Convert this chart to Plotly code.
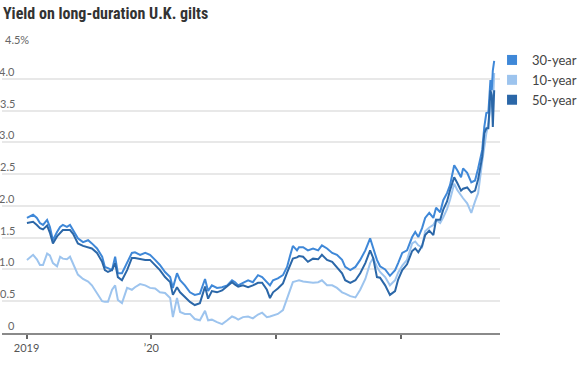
import plotly.graph_objects as go

# ---- data ----
dates = [
    "2019-01-02", "2019-01-20", "2019-01-31", "2019-02-09", "2019-02-18", "2019-03-02", "2019-03-10",
    "2019-03-19", "2019-03-31", "2019-04-09", "2019-04-17", "2019-04-29", "2019-05-08", "2019-05-17",
    "2019-05-31", "2019-06-15", "2019-06-30", "2019-07-11", "2019-07-26", "2019-08-10", "2019-08-18",
    "2019-08-27", "2019-09-08", "2019-09-17", "2019-09-25", "2019-10-07", "2019-10-22", "2019-11-05",
    "2019-11-14", "2019-11-29", "2019-12-14", "2019-12-28", "2020-01-12", "2020-01-26", "2020-02-10",
    "2020-02-25", "2020-03-04", "2020-03-16", "2020-03-25", "2020-04-08", "2020-04-23", "2020-05-07",
    "2020-05-22", "2020-06-06", "2020-06-15", "2020-06-26", "2020-07-11", "2020-07-26", "2020-08-10",
    "2020-08-24", "2020-09-02", "2020-09-11", "2020-09-25", "2020-10-10", "2020-10-24", "2020-11-08",
    "2020-11-20", "2020-12-04", "2020-12-13", "2020-12-22", "2021-01-05", "2021-01-20", "2021-02-01",
    "2021-02-10", "2021-02-18", "2021-03-02", "2021-03-08", "2021-03-20", "2021-04-03", "2021-04-18",
    "2021-05-03", "2021-05-14", "2021-05-29", "2021-06-13", "2021-06-27", "2021-07-12", "2021-07-21",
    "2021-08-05", "2021-08-20", "2021-09-03", "2021-09-18", "2021-10-02", "2021-10-11", "2021-10-22",
    "2021-10-31", "2021-11-15", "2021-11-29", "2021-12-14", "2021-12-23", "2022-01-04", "2022-01-18",
    "2022-02-02", "2022-02-11", "2022-02-20", "2022-03-03", "2022-03-12", "2022-03-24", "2022-04-05",
    "2022-04-13", "2022-04-25", "2022-05-04", "2022-05-15", "2022-05-24", "2022-06-05", "2022-06-14",
    "2022-06-25", "2022-07-01", "2022-07-13", "2022-07-25", "2022-08-05", "2022-08-14", "2022-08-26",
    "2022-09-01", "2022-09-07", "2022-09-13", "2022-09-19", "2022-09-23", "2022-09-26", "2022-09-30",
]

yield_30 = [
    1.81, 1.86, 1.81, 1.73, 1.70, 1.78, 1.67,
    1.46, 1.59, 1.67, 1.70, 1.67, 1.70, 1.62,
    1.49, 1.43, 1.46, 1.41, 1.33, 1.20, 1.04,
    1.02, 0.99, 1.20, 0.94, 0.94, 1.10, 1.26,
    1.27, 1.23, 1.26, 1.23, 1.15, 1.07, 0.96,
    0.88, 0.71, 0.94, 0.83, 0.75, 0.64, 0.60,
    0.62, 0.85, 0.66, 0.75, 0.71, 0.72, 0.75,
    0.83, 0.80, 0.75, 0.79, 0.83, 0.80, 0.91,
    0.88, 0.80, 0.75, 0.83, 0.86, 0.91, 1.04,
    1.22, 1.37, 1.30, 1.35, 1.35, 1.30, 1.33,
    1.30, 1.38, 1.33, 1.26, 1.23, 1.15, 1.04,
    0.99, 1.04, 1.15, 1.30, 1.49, 1.35, 1.15,
    1.05, 1.00, 0.90, 0.99, 1.10, 1.26, 1.30,
    1.51, 1.59, 1.51, 1.65, 1.81, 1.89, 1.81,
    1.97, 1.90, 2.09, 2.20, 2.33, 2.64, 2.56,
    2.45, 2.59, 2.52, 2.37, 2.40, 2.59, 2.88,
    3.24, 3.46, 3.47, 3.98, 3.82, 4.13, 4.28,
]

yield_10 = [
    1.15, 1.23, 1.16, 1.07, 1.07, 1.25, 1.22,
    1.10, 1.05, 1.20, 1.17, 1.16, 1.20, 1.10,
    0.92, 0.85, 0.81, 0.75, 0.62, 0.50, 0.49,
    0.49, 0.68, 0.75, 0.52, 0.47, 0.71, 0.68,
    0.72, 0.77, 0.75, 0.71, 0.70, 0.64, 0.63,
    0.55, 0.25, 0.55, 0.33, 0.30, 0.30, 0.22,
    0.20, 0.35, 0.20, 0.21, 0.17, 0.14, 0.20,
    0.26, 0.24, 0.21, 0.25, 0.26, 0.23, 0.29,
    0.32, 0.25, 0.26, 0.28, 0.30, 0.36, 0.55,
    0.71, 0.80, 0.82, 0.83, 0.81, 0.80, 0.79,
    0.80, 0.83, 0.75, 0.75, 0.71, 0.64, 0.62,
    0.58, 0.56, 0.68, 0.85, 1.10, 1.18, 1.04,
    0.96, 0.88, 0.75, 0.83, 0.95, 1.06, 1.15,
    1.41, 1.44, 1.38, 1.35, 1.60, 1.66, 1.70,
    1.78, 1.73, 1.82, 1.95, 2.10, 2.35, 2.25,
    2.16, 2.12, 2.04, 1.89, 2.07, 2.20, 2.70,
    2.95, 3.14, 3.30, 3.60, 3.70, 3.55, 4.09,
]

yield_50 = [
    1.73, 1.75, 1.70, 1.65, 1.63, 1.69, 1.58,
    1.41, 1.52, 1.57, 1.62, 1.62, 1.62, 1.56,
    1.41, 1.37, 1.35, 1.33, 1.26, 1.12, 0.99,
    0.96, 0.99, 1.10, 0.88, 0.83, 0.99, 1.18,
    1.18, 1.16, 1.15, 1.15, 1.07, 0.99, 0.88,
    0.80, 0.60, 0.72, 0.64, 0.57, 0.49, 0.44,
    0.47, 0.73, 0.54, 0.66, 0.64, 0.67, 0.74,
    0.80, 0.76, 0.73, 0.75, 0.72, 0.75, 0.79,
    0.79, 0.68, 0.55, 0.64, 0.70, 0.78, 0.95,
    1.08, 1.17, 1.19, 1.21, 1.20, 1.12, 1.17,
    1.16, 1.23, 1.15, 1.12, 1.04, 0.94, 0.83,
    0.79, 0.83, 0.94, 1.10, 1.30, 1.18, 0.88,
    0.87, 0.75, 0.60, 0.66, 0.84, 0.99, 1.08,
    1.29, 1.33, 1.27, 1.37, 1.54, 1.61, 1.54,
    1.78, 1.78, 1.94, 2.07, 2.25, 2.45, 2.36,
    2.24, 2.27, 2.29, 2.21, 2.24, 2.42, 2.77,
    3.14, 3.22, 3.22, 3.82, 3.74, 3.24, 3.82,
]

y_ticks = [0, 0.5, 1.0, 1.5, 2.0, 2.5, 3.0, 3.5, 4.0, 4.5]
y_tick_labels = ["0", "0.5", "1.0", "1.5", "2.0", "2.5", "3.0", "3.5", "4.0", "4.5%"]
x_ticks = ["2019-01-01", "2020-01-01", "2021-01-01", "2022-01-01"]
x_tick_labels = ["2019", "\u201920", "", ""]
x_range = ["2018-10-21", "2022-10-17"]

title_text = "Yield on long-duration U.K. gilts"
legend_order = [("30-year", "#3f88d8"), ("10-year", "#9dc4ee"), ("50-year", "#2b67a8")]
draw_order = [("10-year", yield_10, "#9dc4ee"), ("30-year", yield_30, "#3f88d8"),
              ("50-year", yield_50, "#2b67a8")]

fig = go.Figure()
for name, vals, color in draw_order:
    fig.add_trace(go.Scatter(x=dates, y=vals, mode="lines", name=name, showlegend=False,
                             line=dict(color=color, width=2), hoverinfo="skip"))
for name, color in legend_order:
    fig.add_trace(go.Scatter(x=[None], y=[None], mode="markers", name=name,
                             marker=dict(symbol="square", size=10, color=color)))

annotations = []
for v, lab in zip(y_ticks, y_tick_labels):
    if lab.endswith("%"):
        annotations.append(dict(x=0.002, xref="paper", y=v, yref="y", text=lab, showarrow=False,
                                xanchor="left", yanchor="bottom", yshift=-1,
                                font=dict(size=11, color="#666")))
    else:
        annotations.append(dict(x=0.031, xref="paper", y=v, yref="y", text=lab, showarrow=False,
                                xanchor="right", yanchor="bottom", yshift=-1,
                                font=dict(size=11, color="#666")))

fig.update_layout(
    width=586, height=365,
    margin=dict(l=2, r=86, t=47, b=32),
    paper_bgcolor="white", plot_bgcolor="white",
    font=dict(family="Lato, Roboto, sans-serif", color="#555"),
    title=dict(text="<b>" + title_text + "</b>", x=0.005, xref="container", xanchor="left",
               y=0.962, yref="container", yanchor="middle",
               font=dict(family="Liberation Sans Narrow, Roboto Condensed, Lato, sans-serif",
                         size=16, color="#333")),
    xaxis=dict(type="date", range=x_range, tickvals=x_ticks, ticktext=x_tick_labels,
               showgrid=False, zeroline=False, showline=True, linecolor="#8a8a8a", linewidth=1.5,
               ticks="outside", ticklen=4, tickwidth=1.5, tickcolor="#666",
               tickfont=dict(size=11, color="#555")),
    yaxis=dict(range=[0, 4.5], tickvals=y_ticks, showticklabels=False, showgrid=True,
               gridcolor="#e8e8e8", gridwidth=1.5, zeroline=False, showline=False),
    legend=dict(x=0.984, y=1.007, xanchor="left", yanchor="top", font=dict(size=13, color="#444"),
                bgcolor="rgba(0,0,0,0)", tracegroupgap=0),
    annotations=annotations,
    hovermode=False,
)

# remove the browser's default 8px body margin so the figure sits at the page origin
fig.write_html("out.html", config={"displayModeBar": False},
               post_script="document.body.style.margin='0';")
